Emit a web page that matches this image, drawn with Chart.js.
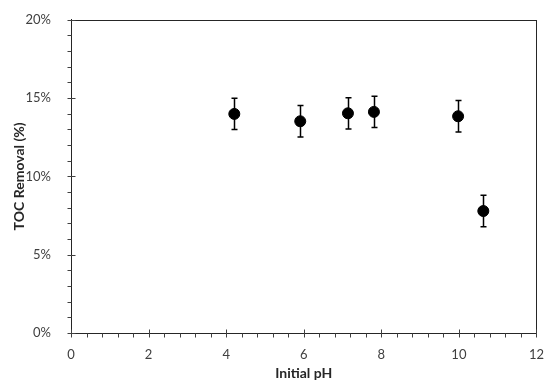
<!DOCTYPE html>
<html>
<head>
<meta charset="utf-8">
<script src="https://cdn.jsdelivr.net/npm/chart.js@4.4.0/dist/chart.umd.min.js"></script>
<style>
  html, body { margin: 0; padding: 0; background: #fff; }
  #wrap { width: 550px; height: 388px; }
</style>
</head>
<body>
<div id="wrap"><canvas id="toc-chart" width="550" height="388"></canvas></div>
<script>
// data
var initialPH   = [4.21, 5.91, 7.14, 7.81, 9.98, 10.63];
var tocRemoval  = [13.99, 13.52, 14.03, 14.12, 13.84, 7.79];   // %
var tocError    = [1.0, 1.0, 1.0, 1.0, 1.0, 1.0];              // +/- %
var xTicks      = [0, 2, 4, 6, 8, 10, 12];
var yTicks      = [0, 5, 10, 15, 20];

var axisColor = '#404040';
var fontFamily = 'Lato, "Open Sans", sans-serif';

// error bars, minor ticks and plot frame
var extrasPlugin = {
  id: 'extras',
  afterDatasetsDraw: function (chart) {
    var ctx = chart.ctx;
    var xs = chart.scales.x, ys = chart.scales.y;
    ctx.save();
    ctx.strokeStyle = '#000';
    ctx.lineWidth = 1.5;
    for (var i = 0; i < initialPH.length; i++) {
      var px = Math.round(xs.getPixelForValue(initialPH[i])) + 0.5;
      var top = ys.getPixelForValue(tocRemoval[i] + tocError[i]);
      var bot = ys.getPixelForValue(tocRemoval[i] - tocError[i]);
      ctx.beginPath();
      ctx.moveTo(px, top); ctx.lineTo(px, bot);
      ctx.moveTo(px - 3, top); ctx.lineTo(px + 3, top);
      ctx.moveTo(px - 3, bot); ctx.lineTo(px + 3, bot);
      ctx.stroke();
    }
    ctx.restore();
  },
  beforeDatasetsDraw: function (chart) {
    var ctx = chart.ctx;
    var a = chart.chartArea;
    var xs = chart.scales.x, ys = chart.scales.y;
    ctx.save();
    ctx.strokeStyle = '#262626';
    ctx.lineWidth = 1;
    ctx.strokeRect(Math.round(a.left) + 0.5, Math.round(a.top) + 0.5,
                   Math.round(a.right - a.left), Math.round(a.bottom - a.top));
    ctx.strokeStyle = axisColor;
    ctx.beginPath();
    // x ticks: major every 2, minor every 0.4
    for (var v = 0; v <= 12.001; v += 0.4) {
      var x = Math.round(xs.getPixelForValue(v)) + 0.5;
      var major = Math.abs(v / 2 - Math.round(v / 2)) < 0.01;
      var b = Math.round(a.bottom) + 0.5;
      if (major) { ctx.moveTo(x, b - 4); ctx.lineTo(x, b + 4); }
      else { ctx.moveTo(x, b); ctx.lineTo(x, b + 4); }
    }
    // y ticks: major every 5, minor every 1
    for (var w = 0; w <= 20; w += 1) {
      var y = Math.round(ys.getPixelForValue(w)) + 0.5;
      var l = Math.round(a.left) + 0.5;
      if (w % 5 === 0) { ctx.moveTo(l - 4, y); ctx.lineTo(l + 4, y); }
      else { ctx.moveTo(l - 4, y); ctx.lineTo(l, y); }
    }
    ctx.stroke();
    ctx.restore();
  }
};

var points = initialPH.map(function (ph, i) { return { x: ph, y: tocRemoval[i] }; });

new Chart(document.getElementById('toc-chart').getContext('2d'), {
  type: 'scatter',
  data: {
    datasets: [{
      label: 'TOC Removal',
      data: points,
      backgroundColor: '#000',
      borderColor: '#000',
      pointRadius: 5.5,
      pointHoverRadius: 5.5,
    }],
  },
  options: {
    responsive: false,
    animation: false,
    layout: { padding: { top: 19, right: 2, left: 0, bottom: 0 } },
    plugins: {
      legend: { display: false },
      tooltip: { enabled: false },
    },
    scales: {
      x: {
        type: 'linear',
        min: 0, max: 12,
        afterFit: function (s) { s.height = 55; },
        afterBuildTicks: function (s) { s.ticks = xTicks.map(function (v) { return { value: v }; }); },
        grid: { display: false },
        border: { display: true, color: '#262626', width: 1 },
        ticks: { color: axisColor, padding: 6, font: { family: fontFamily, size: 13 } },
        title: {
          display: true, text: 'Initial pH', color: '#262626',
          padding: { top: 4, bottom: 6 },
          font: { family: fontFamily, size: 14, weight: 'bold' },
        },
      },
      y: {
        type: 'linear',
        min: 0, max: 20,
        afterFit: function (s) { s.width = 71; },
        afterBuildTicks: function (s) { s.ticks = yTicks.map(function (v) { return { value: v }; }); },
        grid: { display: false },
        border: { display: true, color: '#262626', width: 1 },
        ticks: {
          color: axisColor, padding: 12,
          font: { family: fontFamily, size: 13 },
          callback: function (v) { return v + '%'; },
        },
        title: {
          display: true, text: 'TOC Removal (%)', color: '#262626',
          padding: { top: 11, bottom: 4 },
          font: { family: fontFamily, size: 14, weight: 'bold' },
        },
      },
    },
  },
  plugins: [extrasPlugin],
});
</script>
</body>
</html>
